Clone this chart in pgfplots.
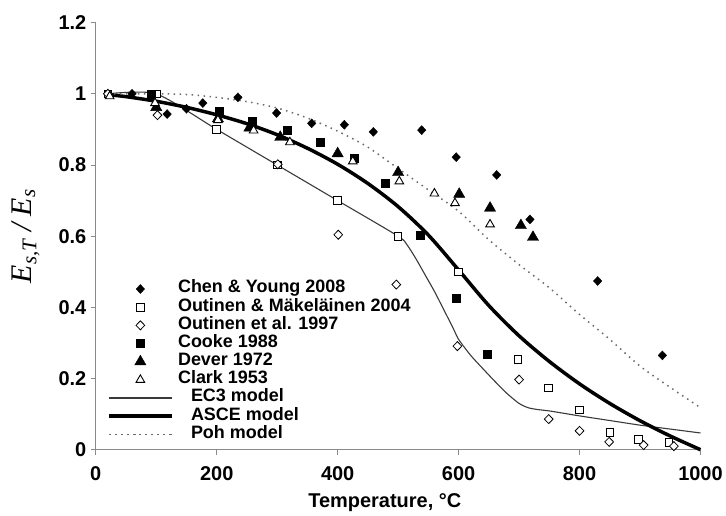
\documentclass[border=0pt]{standalone}
\usepackage{fontspec}
\setmainfont{Liberation Sans}
\newfontfamily\serif{Liberation Serif}
\usepackage{pgfplots}
\pgfplotsset{compat=1.18}

\definecolor{axisgray}{HTML}{8A8A8A}
\definecolor{ecgray}{HTML}{3A3A3A}
\definecolor{pohgray}{HTML}{6A6A6A}

\pgfplotsset{
  linelegend/.style={legend image code/.code={
    \draw[##1] plot coordinates {(0pt,0pt) (62pt,0pt)};}},
  marklegend/.style={legend image code/.code={
    \path[draw=none, fill=none] (0pt,0pt) (62pt,0pt);
    \draw[##1, only marks] plot coordinates {(31pt,0pt)};}},
}

\begin{document}
\begin{tikzpicture}
\begin{axis}[
  scale only axis,
  width=606pt, height=428pt,
  xmin=0, xmax=1000, ymin=0, ymax=1.2,
  axis x line*=bottom, axis y line*=left,
  axis line style={axisgray, line width=0.8pt},
  xtick={0,200,400,600,800,1000},
  ytick={0,0.2,0.4,0.6,0.8,1,1.2},
  tick align=outside, major tick length=5pt,
  tick style={axisgray, line width=0.8pt},
  ticklabel style={font=\bfseries\fontsize{20}{20}\selectfont},
  xticklabel style={yshift=-8pt},
  yticklabel style={xshift=-1pt},
  /pgf/number format/assume math mode=true,
  /pgf/number format/1000 sep={},
  xlabel={Temperature, °C},
  xlabel style={at={(axis description cs:0.478,-0.124)}, anchor=center, font=\bfseries\fontsize{20}{20}\selectfont},
  ylabel={E\textsubscript{s,T} / E\textsubscript{s}},
  ylabel style={at={(axis description cs:-0.116,0.5)}, anchor=center, font=\serif\itshape\fontsize{30}{30}\selectfont},
  clip=false,
  legend cell align=left,
  legend style={at={(axis cs:19.7,0.477)}, anchor=north west, draw=none, fill=none,
    inner sep=0pt, outer sep=0pt, row sep=0pt, column sep=5pt,
    font=\bfseries\fontsize{18}{18}\selectfont,
    nodes={inner sep=0pt, text height=13pt, text depth=5.2pt}},
]
% Chen & Young 2008
\addplot[only marks, mark=diamond*, mark size=4.5pt, black, mark options={xscale=1.25}, marklegend]
  coordinates {(60,1.0) (118,0.943) (150,0.958) (177,0.974) (235,0.990) (299,0.946) (357,0.917) (411,0.913) (459,0.893) (539,0.898) (596,0.822) (663,0.772) (718,0.647) (830,0.474) (937,0.265)};
\addlegendentry{Chen \& Young 2008}
% Outinen & Makelainen 2004
\addplot[only marks, mark=square*, mark size=3.8pt, black, mark options={fill=white, line width=0.9pt}, marklegend]
  coordinates {(20,1.0) (100,1.0) (200,0.9) (300,0.8) (400,0.7) (500,0.6) (600,0.5) (698,0.253) (749,0.173) (800,0.112) (850,0.049) (897,0.029) (948,0.021)};
\addlegendentry{Outinen \& Mäkeläinen 2004}
% Outinen et al. 1997
\addplot[only marks, mark=diamond*, mark size=4.5pt, black, mark options={xscale=1.3, fill=white, line width=0.8pt}, marklegend]
  coordinates {(20,1.0) (102,0.94) (301,0.802) (401,0.604) (497,0.464) (598,0.291) (700,0.197) (749,0.086) (800,0.053) (849,0.022) (906,0.013) (956,0.010)};
\addlegendentry{Outinen et al. 1997}
% Cooke 1988
\addplot[only marks, mark=square*, mark size=4pt, black, marklegend]
  coordinates {(92,1.0) (204,0.951) (258,0.923) (317,0.897) (371,0.865) (427,0.820) (478,0.748) (537,0.604) (596,0.425) (647,0.267)};
\addlegendentry{Cooke 1988}
% Dever 1972
\addplot[only marks, mark=triangle*, mark size=6.5pt, black, marklegend]
  coordinates {(100,0.962) (202,0.930) (254,0.904) (305,0.878) (400,0.832) (500,0.779) (601,0.718) (652,0.679) (703,0.630) (723,0.597)};
\addlegendentry{Dever 1972}
% Clark 1953
\addplot[only marks, mark=triangle*, mark size=5pt, black, mark options={fill=white, line width=0.9pt}, marklegend]
  coordinates {(23,0.993) (98,0.974) (202,0.926) (261,0.897) (321,0.864) (425,0.810) (502,0.754) (560,0.720) (594,0.693) (652,0.633)};
\addlegendentry{Clark 1953}
% EC3 model
\addplot[ecgray, line width=1.1pt, smooth, tension=0.4, linelegend]
  coordinates {(20,1.0) (100,1.0) (200,0.9) (300,0.8) (400,0.7) (500,0.6) (515,0.575) (530,0.535) (545,0.49) (560,0.445) (575,0.395) (590,0.345) (600,0.31) (620,0.265) (640,0.228) (660,0.192) (680,0.158) (700,0.13) (715,0.118) (730,0.113) (750,0.109) (775,0.102) (800,0.095) (850,0.082) (900,0.069) (950,0.058) (1000,0.047)};
\addlegendentry{\hspace*{13pt}EC3 model}
% ASCE model
\addplot[black, line width=3.5pt, smooth, linelegend]
  coordinates {(20,0.9975) (50,0.992) (100,0.979) (150,0.962) (200,0.941) (250,0.916) (300,0.885) (350,0.847) (400,0.802) (450,0.748) (500,0.683) (550,0.603) (600,0.505) (650,0.405) (700,0.320) (750,0.248) (800,0.185) (850,0.130) (900,0.0815) (950,0.0385) (1000,0)};
\addlegendentry{\hspace*{13pt}ASCE model}
% Poh model
\addplot[pohgray, line width=1.5pt, dash pattern=on 1.5pt off 4.5pt, smooth, linelegend]
  coordinates {(20,1.0) (100,1.0) (150,0.998) (200,0.99) (250,0.978) (300,0.96) (350,0.932) (400,0.895) (450,0.85) (500,0.79) (550,0.73) (600,0.67) (650,0.59) (700,0.52) (750,0.455) (800,0.38) (850,0.31) (900,0.235) (950,0.175) (1000,0.118)};
\addlegendentry{\hspace*{13pt}Poh model}
\path (rel axis cs:-0.1584,-0.1456) rectangle (rel axis cs:1.0396,1.053);
\end{axis}
\end{tikzpicture}
\end{document}
